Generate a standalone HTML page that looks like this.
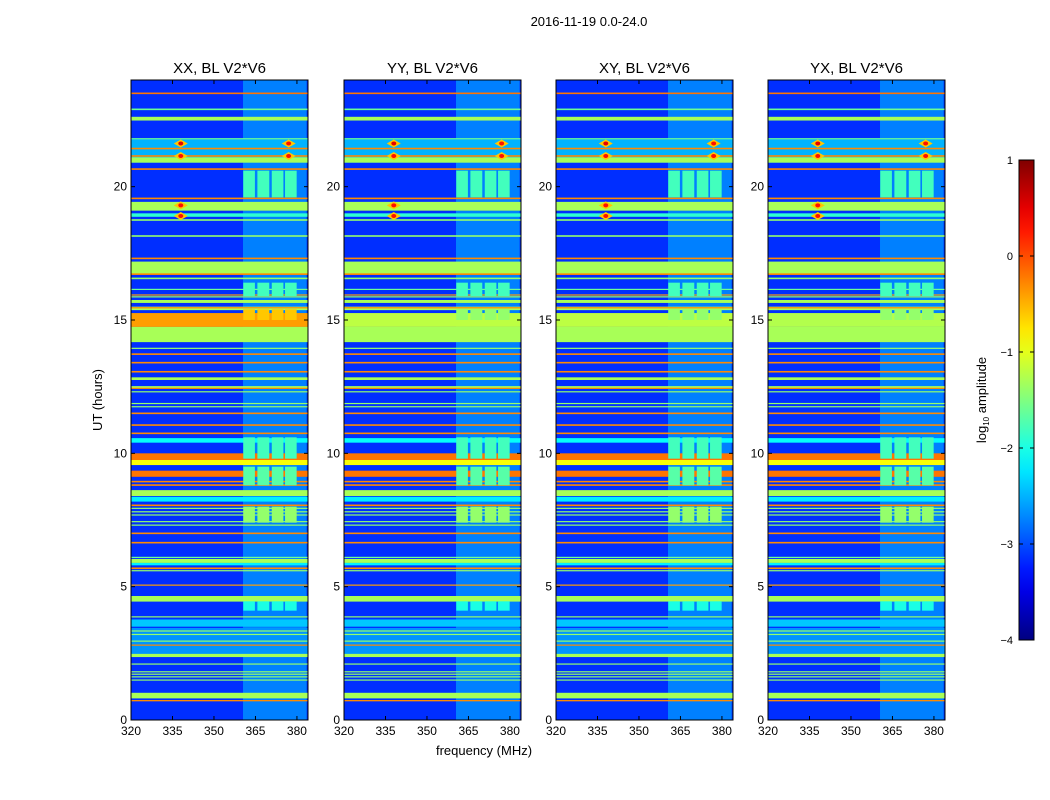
<!DOCTYPE html>
<html><head><meta charset="utf-8"><style>
body{margin:0;background:#fff;}
svg{display:block;font-family:"Liberation Sans",sans-serif;}
</style></head><body>
<svg id="fig" width="1050" height="800" viewBox="0 0 1050 800" xmlns="http://www.w3.org/2000/svg">
<text x="589" y="26" font-size="13" text-anchor="middle">2016-11-19 0.0-24.0</text>
<text x="0" y="0" font-size="13" text-anchor="middle" transform="translate(102,400) rotate(-90)">UT (hours)</text>
<text x="484" y="755" font-size="13" text-anchor="middle">frequency (MHz)</text>
<g id="panels"></g>
<g id="cbar"></g>
</svg>
<script>
const panelTitles = ["XX, BL V2*V6","YY, BL V2*V6","XY, BL V2*V6","YX, BL V2*V6"];
const freqTicks = [320,335,350,365,380];
const timeTicks = [0,5,10,15,20];
const cbarTicks = [1,0,-1,-2,-3,-4];
const cbarTickLabels = ["1","0","\u22121","\u22122","\u22123","\u22124"];
const backgroundLevel = -3.15;
const stripeF0 = 360.5, stripeF1 = 383.5, stripeLevel = -2.75;
const bandT0 = [23.47,22.87,22.48,20.9,21.78,21.4,21.12,20.9,20.63,19.53,19.1,18.87,18.72,18.12,17.28,16.74,16.69,16.53,16.13,15.92,15.85,15.64,15.37,15.44,14.74,14.17,13.92,13.69,13.37,13.03,12.75,12.45,12.42,12.29,11.85,11.73,11.47,11.03,10.72,10.4,9.75,9.56,9.12,8.91,8.78,8.4,8.19,8.02,7.92,7.79,7.67,7.42,7.29,6.97,6.62,6.08,5.89,5.8,5.66,5.58,5.04,4.44,3.85,3.5,2.4,3.33,3.2,2.95,2.8,2.36,2.08,1.79,1.7,1.6,1.48,0.81,0.7];
const bandT1 = [23.53,22.93,22.62,21.8,21.82,21.46,21.18,21.1,20.69,19.59,19.43,19.0,18.78,18.18,17.34,17.19,16.75,16.59,16.17,15.96,15.89,15.75,15.5,15.48,15.26,14.74,13.96,13.75,13.43,13.09,12.85,12.52,12.46,12.33,11.89,11.77,11.53,11.09,10.78,10.57,10.0,9.75,9.35,8.97,8.84,8.62,8.37,8.08,7.96,7.83,7.71,7.46,7.33,7.03,6.68,6.12,6.04,5.89,5.72,5.62,5.08,4.65,3.89,3.77,3.45,3.36,3.23,2.98,2.83,2.48,2.12,1.83,1.74,1.64,1.52,1.02,0.75];
const bandLevel = [-0.2,-1.6,-1.3,-2.5,-1.6,-0.3,-0.3,-1.3,-0.3,-0.3,-1.3,-1.9,-1.4,-1.4,-0.3,-1.3,-0.3,-1.4,-1.6,-0.4,-1.4,-1.3,-1.3,-0.3,-0.4,-1.3,-1.4,-0.3,-0.3,-0.3,-1.3,-1.3,-0.3,-1.4,-1.4,-1.4,-0.3,-0.3,-0.3,-2.1,-0.2,-0.9,-0.2,-0.3,-0.3,-1.3,-2.2,-0.3,-1.4,-1.4,-1.4,-1.4,-1.4,-0.3,-0.3,-1.6,-1.3,-2.2,-0.3,-1.4,-0.4,-1.3,-1.4,-2.4,-2.65,-1.4,-1.4,-1.4,-0.3,-1.3,-1.4,-1.4,-1.4,-1.4,-1.4,-1.3,-0.3];
const band15Level = [-0.4,-1.2,-1.2,-1.25];
const blockF0 = [360.6,365.7,370.9,375.7];
const blockF1 = [364.8,370.0,375.1,379.9];
const blockT0 = [19.6,15.9,15.0,9.8,8.8,7.4,4.1];
const blockT1 = [20.6,16.4,15.4,10.6,9.5,8.0,4.45];
const blockLevel = [-1.8,-1.8,-0.6,-1.8,-1.7,-1.4,-2.0];
const spikeF = [338,338,338,338,377,377];
const spikeT = [21.62,21.15,19.3,18.9,21.62,21.15];
const spikeLevel = [0.5,0.3,0.3,0.3,0.3,0.3];

const NS="http://www.w3.org/2000/svg";
const lefts=[131,344,556,768], PW=177, TOP=80, BOT=720;
const FMIN=320, FMAX=384, TMIN=0, TMAX=24;
function jet(v){const t=Math.max(0,Math.min(1,(v+4)/5));const c=x=>Math.round(255*Math.max(0,Math.min(1,1.5-Math.abs(4*t-x))));return `rgb(${c(3)},${c(2)},${c(1)})`;}
function mk(tag,attrs,parent){const e=document.createElementNS(NS,tag);for(const k in attrs)e.setAttribute(k,attrs[k]);parent.appendChild(e);return e;}
const panelsG=document.getElementById('panels');
lefts.forEach((L,p)=>{
  const xs=f=>L+(f-FMIN)/(FMAX-FMIN)*PW;
  const ys=t=>BOT-(t-TMIN)/(TMAX-TMIN)*(BOT-TOP);
  const g=mk('g',{},panelsG);
  
  
  const bg=mk('rect',{x:L,y:TOP,width:PW,height:BOT-TOP,fill:jet(backgroundLevel)},g);
  
  
  const st=mk('rect',{x:xs(stripeF0),y:TOP,width:xs(stripeF1)-xs(stripeF0),height:BOT-TOP,fill:jet(stripeLevel)},g);
  
  
  for(let i=0;i<bandT0.length;i++){
    const lv=(i===24)?band15Level[p]:bandLevel[i];
    const y1=ys(bandT1[i]), y0=ys(bandT0[i]);
    const r=mk('rect',{x:L,y:y1,width:PW,height:Math.max(1.2,y0-y1),fill:jet(lv)},g);
    
    
  }
  for(let j=0;j<blockT0.length;j++){
    const lv=(p>0&&j===2)?-1.4:blockLevel[j];
    for(let k=0;k<blockF0.length;k++){
      const r=mk('rect',{x:xs(blockF0[k]),y:ys(blockT1[j]),width:xs(blockF1[k])-xs(blockF0[k]),height:ys(blockT0[j])-ys(blockT1[j]),fill:jet(lv)},g);
      
      
    }
  }
  for(let s=0;s<spikeF.length;s++){
    const cx=xs(spikeF[s]), cy=ys(spikeT[s]);
    const d=`M${cx-7},${cy} L${cx},${cy-4} L${cx+7},${cy} L${cx},${cy+4} Z`;
    const a=mk('path',{d:d,fill:jet(-0.6)},g);
    
    
    const b=mk('ellipse',{cx:cx,cy:cy,rx:2.5,ry:2,fill:jet(spikeLevel[s])},g);
    
    
  }
  const fr=mk('rect',{x:L,y:TOP,width:PW,height:BOT-TOP,fill:'none',stroke:'#000','stroke-width':1},g);
  
  
  const tt=mk('text',{x:L+PW/2,y:73,'font-size':15,'text-anchor':'middle'},g);
  tt.textContent=panelTitles[p];
  
  
  freqTicks.forEach(f=>{
    const x=xs(f);
    mk('line',{x1:x,y1:BOT,x2:x,y2:BOT-4,stroke:'#000'},g);
    mk('line',{x1:x,y1:TOP,x2:x,y2:TOP+4,stroke:'#000'},g);
    const t=mk('text',{x:x,y:BOT+15,'font-size':12,'text-anchor':'middle'},g);
    t.textContent=f;
    
    
  });
  timeTicks.forEach(h=>{
    const y=ys(h);
    mk('line',{x1:L,y1:y,x2:L+4,y2:y,stroke:'#000'},g);
    mk('line',{x1:L+PW,y1:y,x2:L+PW-4,y2:y,stroke:'#000'},g);
    const t=mk('text',{x:L-4,y:y+4,'font-size':12,'text-anchor':'end'},g);
    t.textContent=h;
    
    
  });
});
const cb=document.getElementById('cbar');
const CX=1019,CW=15,CT=160,CB=640;
const defs=mk('defs',{},cb);
const lg=mk('linearGradient',{id:'jetg',x1:0,y1:1,x2:0,y2:0},defs);
for(let i=0;i<=20;i++){const v=-4+5*i/20;mk('stop',{offset:i/20,'stop-color':jet(v)},lg);}
const cr=mk('rect',{x:CX,y:CT,width:CW,height:CB-CT,fill:'url(#jetg)',stroke:'#000','stroke-width':1},cb);


cbarTicks.forEach((v,i)=>{
  const y=CB-(v+4)/5*(CB-CT);
  mk('line',{x1:CX,y1:y,x2:CX+4,y2:y,stroke:'#000'},cb);
  mk('line',{x1:CX+CW,y1:y,x2:CX+CW-4,y2:y,stroke:'#000'},cb);
  const t=mk('text',{x:CX-6,y:y+4,'font-size':11,'text-anchor':'end'},cb);
  t.textContent=cbarTickLabels[i];
  
  
});
const cl=mk('text',{x:0,y:0,'font-size':13,'text-anchor':'middle',transform:'translate(986,400) rotate(-90)'},cb);
cl.innerHTML='log<tspan font-size="8" dy="3">10</tspan><tspan dy="-3"> amplitude</tspan>';


</script>
</body></html>
